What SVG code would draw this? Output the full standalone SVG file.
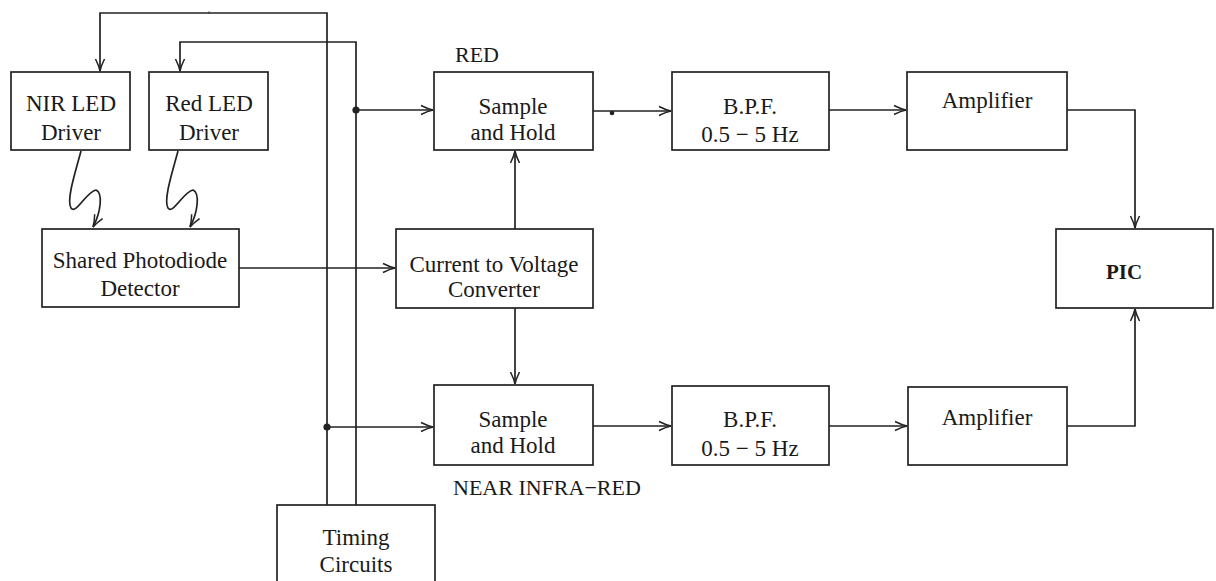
<svg xmlns="http://www.w3.org/2000/svg" width="1216" height="581" viewBox="0 0 1216 581">
<style>
.box{fill:#fff;stroke:#222;stroke-width:1.7}
.t{font-family:"Liberation Serif","Times New Roman",serif;font-size:23px;fill:#1a1a1a;text-anchor:middle}
.lb{font-family:"Liberation Serif","Times New Roman",serif;font-size:22px;fill:#1a1a1a}
.c{fill:none;stroke:#222;stroke-width:1.7}
</style>
<defs>
<marker id="arr" viewBox="-13 -6 15 12" refX="0" refY="0" markerWidth="15" markerHeight="12" markerUnits="userSpaceOnUse" orient="auto">
<path d="M-12,-4.5 Q-5,-1 0,0 Q-5,1 -12,4.5" fill="none" stroke="#222" stroke-width="1.5"/>
</marker>
</defs>
<rect width="1216" height="581" fill="#fff"/>
<g id="connectors">
<path class="c" d="M327,505 V13 H100 V71" marker-end="url(#arr)"/>
<path class="c" d="M356,505 V42 H180 V71" marker-end="url(#arr)"/>
<path class="c" d="M356,110 H433" marker-end="url(#arr)"/>
<path class="c" d="M327,427 H433" marker-end="url(#arr)"/>
<path class="c" d="M239,268 H395" marker-end="url(#arr)"/>
<path class="c" d="M515,229 V151" marker-end="url(#arr)"/>
<path class="c" d="M515,308 V384" marker-end="url(#arr)"/>
<path class="c" d="M593,111 H671" marker-end="url(#arr)"/>
<path class="c" d="M829,110 H906" marker-end="url(#arr)"/>
<path class="c" d="M1067,110 H1135 V228" marker-end="url(#arr)"/>
<path class="c" d="M593,426 H671" marker-end="url(#arr)"/>
<path class="c" d="M829,426 H907" marker-end="url(#arr)"/>
<path class="c" d="M1067,426 H1135 V309" marker-end="url(#arr)"/>
<path class="c" d="M81,151 C76,170 66,200 71,208 C76,215 86,192 96,190 C103,193 101,212 93,227" marker-end="url(#arr)"/>
<path class="c" d="M178,151 C173,170 163,200 168,208 C173,215 183,192 193,190 C200,193 198,212 190,227" marker-end="url(#arr)"/>
<circle cx="356" cy="110" r="3.6" fill="#222"/>
<circle cx="327" cy="427" r="3.6" fill="#222"/>
<circle cx="612" cy="113" r="2.3" fill="#222"/>
<path d="M209,11.5 V14" stroke="#444" stroke-width="1.3"/>
</g>
<g id="nir-led-driver">
<rect class="box" x="11" y="72" width="119" height="78"/>
<text class="t" x="71" y="111">NIR LED</text>
<text class="t" x="71" y="140">Driver</text>
</g>
<g id="red-led-driver">
<rect class="box" x="149" y="72" width="119" height="78"/>
<text class="t" x="209" y="111">Red LED</text>
<text class="t" x="209" y="140">Driver</text>
</g>
<g id="photodiode">
<rect class="box" x="42" y="229" width="197" height="78"/>
<text class="t" x="140" y="268">Shared Photodiode</text>
<text class="t" x="140" y="296">Detector</text>
</g>
<g id="cvc">
<rect class="box" x="396" y="229" width="197" height="79"/>
<text class="t" x="494" y="272">Current to Voltage</text>
<text class="t" x="494" y="297">Converter</text>
</g>
<g id="sh-red">
<rect class="box" x="434" y="72" width="159" height="78"/>
<text class="t" x="513" y="114">Sample</text>
<text class="t" x="513" y="140">and Hold</text>
</g>
<g id="sh-nir">
<rect class="box" x="434" y="385" width="159" height="80"/>
<text class="t" x="513" y="427">Sample</text>
<text class="t" x="513" y="453">and Hold</text>
</g>
<g id="bpf-red">
<rect class="box" x="672" y="72" width="157" height="78"/>
<text class="t" x="750" y="114">B.P.F.</text>
<text class="t" x="750" y="142">0.5 − 5 Hz</text>
</g>
<g id="bpf-nir">
<rect class="box" x="672" y="386" width="157" height="79"/>
<text class="t" x="750" y="427">B.P.F.</text>
<text class="t" x="750" y="456">0.5 − 5 Hz</text>
</g>
<g id="amp-red">
<rect class="box" x="907" y="72" width="160" height="78"/>
<text class="t" x="987" y="108">Amplifier</text>
</g>
<g id="amp-nir">
<rect class="box" x="908" y="387" width="159" height="78"/>
<text class="t" x="987" y="425">Amplifier</text>
</g>
<g id="pic">
<rect class="box" x="1056" y="229" width="157" height="79"/>
<text class="t" x="1124" y="279" style="font-weight:bold;font-size:21px">PIC</text>
</g>
<g id="timing">
<rect class="box" x="277" y="505" width="158" height="82"/>
<text class="t" x="356" y="545">Timing</text>
<text class="t" x="356" y="572">Circuits</text>
</g>
<g id="labels">
<text class="lb" x="455" y="62">RED</text>
<text class="lb" x="453" y="495">NEAR INFRA−RED</text>
</g>
</svg>
